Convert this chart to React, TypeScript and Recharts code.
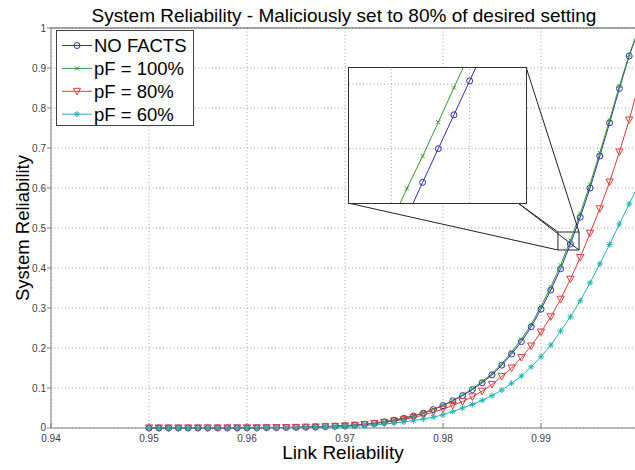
import React from 'react';
import { LineChart, Line, XAxis, YAxis, CartesianGrid, ReferenceLine, ReferenceArea } from 'recharts';

// link reliability samples (x) and the four curves
const linkRel = [
  0.95, 0.951, 0.952, 0.953, 0.954, 0.955, 0.956, 0.957, 0.958, 0.959,
  0.96, 0.961, 0.962, 0.963, 0.964, 0.965, 0.966, 0.967, 0.968, 0.969,
  0.97, 0.971, 0.972, 0.973, 0.974, 0.975, 0.976, 0.977, 0.978, 0.979,
  0.98, 0.981, 0.982, 0.983, 0.984, 0.985, 0.986, 0.987, 0.988, 0.989,
  0.99, 0.991, 0.992, 0.993, 0.994, 0.995, 0.996, 0.997, 0.998, 0.999, 1.0,
];
const noFacts = [
  0.0001, 0.0001, 0.0001, 0.0001, 0.0002, 0.0002, 0.0002, 0.0003, 0.0003, 0.0004,
  0.0005, 0.0006, 0.0008, 0.001, 0.0013, 0.0017, 0.0022, 0.0028, 0.0036, 0.0045,
  0.0057, 0.0073, 0.0095, 0.012, 0.0155, 0.0195, 0.024, 0.03, 0.037, 0.046,
  0.056, 0.068, 0.081, 0.096, 0.113, 0.133, 0.157, 0.185, 0.216, 0.253,
  0.297, 0.345, 0.398, 0.46, 0.527, 0.6, 0.68, 0.763, 0.849, 0.93, 1.0,
];
const pF100 = [
  0.0001, 0.0001, 0.0001, 0.0001, 0.0002, 0.0002, 0.0002, 0.0003, 0.0003, 0.0004,
  0.0005, 0.0006, 0.0008, 0.001, 0.0013, 0.0017, 0.0022, 0.0029, 0.0037, 0.0046,
  0.0058, 0.0075, 0.0097, 0.0123, 0.0158, 0.0199, 0.0245, 0.0306, 0.0378, 0.047,
  0.057, 0.069, 0.083, 0.098, 0.116, 0.136, 0.161, 0.19, 0.222, 0.259,
  0.304, 0.353, 0.407, 0.469, 0.536, 0.609, 0.688, 0.77, 0.855, 0.933, 1.0,
];
const pF80 = [
  0.0001, 0.0001, 0.0001, 0.0001, 0.0002, 0.0002, 0.0002, 0.0003, 0.0003, 0.0004,
  0.0005, 0.0006, 0.0008, 0.001, 0.0013, 0.0016, 0.0021, 0.0026, 0.0033, 0.0042,
  0.0052, 0.0067, 0.0087, 0.011, 0.014, 0.0175, 0.0215, 0.0265, 0.0325, 0.04,
  0.047, 0.0565, 0.066, 0.078, 0.092, 0.109, 0.129, 0.15, 0.176, 0.205,
  0.24, 0.278, 0.322, 0.372, 0.426, 0.487, 0.548, 0.615, 0.69, 0.77, 0.86,
];
const pF60 = [
  0.0001, 0.0001, 0.0001, 0.0001, 0.0001, 0.0002, 0.0002, 0.0002, 0.0003, 0.0003,
  0.0004, 0.0005, 0.0006, 0.0008, 0.001, 0.0012, 0.0015, 0.0019, 0.0024, 0.003,
  0.0037, 0.0048, 0.0062, 0.0078, 0.0098, 0.0122, 0.015, 0.0185, 0.0225, 0.027,
  0.033, 0.041, 0.05, 0.059, 0.069, 0.081, 0.095, 0.112, 0.13, 0.153,
  0.178, 0.2075, 0.2425, 0.278, 0.318, 0.363, 0.41, 0.459, 0.51, 0.56, 0.61,
];

const xTicks = [0.94, 0.95, 0.96, 0.97, 0.98, 0.99, 1];
const yTicks = [0, 0.1, 0.2, 0.3, 0.4, 0.5, 0.6, 0.7, 0.8, 0.9, 1];

// magnified inset (finer sampling around 0.993)
const insetX = [0.9924, 0.9926, 0.9928, 0.993, 0.9932, 0.9934, 0.9936];
const insetNoFacts = [null, 0.444, 0.4546, 0.465, 0.4755, 0.486, 0.4965];
const insetPF100 = [0.4423, 0.4527, 0.4627, 0.4732, 0.4839, 0.4945, null];
const insetXDomain = [0.99186, 0.99412];
const insetYDomain = [0.4482, 0.49];
const insetGridX = [0.9924, 0.9934];
const insetGridY = [0.465, 0.485];

// zoom box on the main axes
const zoomBox = { x1: 0.99173, x2: 0.99388, y1: 0.445, y2: 0.49 };

const BLUE = '#2e2eb0';
const GREEN = '#2e9c2e';
const RED = '#e03a3a';
const CYAN = '#1fb5b5';
const FONT = '"Liberation Sans", Arial, sans-serif';

// main plot geometry (pixels)
const PL = 51, PT = 28, PW = 588, PH = 400;
const CW = 660, CH = 470;
const XAXIS_H = 30, YAXIS_W = 40;
const INSET = { left: 348, top: 67, right: 526, bottom: 203 };
const px2x = (px: number) => 0.94 + ((px - PL) / PW) * 0.06;
const py2y = (py: number) => 1 - (py - PT) / PH;

const rows = linkRel.map((x, i) => ({ x, noFacts: noFacts[i], pF100: pF100[i], pF80: pF80[i], pF60: pF60[i] }));
const insetRows = insetX.map((x, i) => ({ x, noFacts: insetNoFacts[i], pF100: insetPF100[i] }));

function Marker({ shape, cx, cy, color }: { shape: string; cx: number; cy: number; color: string }) {
  if (shape === 'o') return <circle cx={cx} cy={cy} r={3} fill="none" stroke={color} strokeWidth={1} />;
  if (shape === 'x')
    return (
      <g stroke={color} strokeWidth={1}>
        <line x1={cx - 2} y1={cy - 2} x2={cx + 2} y2={cy + 2} />
        <line x1={cx - 2} y1={cy + 2} x2={cx + 2} y2={cy - 2} />
      </g>
    );
  if (shape === 'v')
    return (
      <polygon
        points={`${cx - 3.6},${cy - 3} ${cx + 3.6},${cy - 3} ${cx},${cy + 3.6}`}
        fill="none" stroke={color} strokeWidth={1}
      />
    );
  return (
    <g stroke={color} strokeWidth={1}>
      <line x1={cx - 3} y1={cy} x2={cx + 3} y2={cy} />
      <line x1={cx} y1={cy - 3} x2={cx} y2={cy + 3} />
      <line x1={cx - 2.2} y1={cy - 2.2} x2={cx + 2.2} y2={cy + 2.2} />
      <line x1={cx - 2.2} y1={cy + 2.2} x2={cx + 2.2} y2={cy - 2.2} />
    </g>
  );
}

const makeDot = (shape: string, color: string, range?: number[]) => (props: any) => {
  const { cx, cy, index, payload, value } = props;
  const out = range && (payload.x < range[0] || payload.x > range[1]);
  if (cx == null || cy == null || value == null || out) return <g key={index} />;
  return (
    <g key={index}>
      <Marker shape={shape} cx={cx} cy={cy} color={color} />
    </g>
  );
};

// x ticks point inwards (up), label below; the label at 1 falls outside the picture
function XTick(props: any) {
  const { x, payload } = props;
  const v = payload.value;
  const ay = PT + PH;
  return (
    <g>
      <line x1={x} y1={ay} x2={x} y2={ay - 5} stroke="#808080" />
      {v < 1 && (
        <text x={x} y={ay + 13.5} textAnchor="middle" fontSize={10} fill="#404040" fontFamily={FONT}>
          {v.toFixed(2)}
        </text>
      )}
    </g>
  );
}

function YTick(props: any) {
  const { y, payload } = props;
  const v = payload.value;
  return (
    <g>
      <line x1={PL} y1={y} x2={PL - 4} y2={y} stroke="#808080" />
      <text x={PL - 5} y={v === 0 ? y + 2.5 : y + 3.6} textAnchor="end" fontSize={10} fill="#404040" fontFamily={FONT}>
        {v === 0 || v === 1 ? String(v) : v.toFixed(1)}
      </text>
    </g>
  );
}

const legendItems = [
  { label: 'NO FACTS', color: BLUE, shape: 'o' },
  { label: 'pF = 100%', color: GREEN, shape: 'x' },
  { label: 'pF = 80%', color: RED, shape: 'v' },
  { label: 'pF = 60%', color: CYAN, shape: '*' },
];

export default function App() {
  return (
    <div style={{ position: 'fixed', left: 0, top: 0, width: 635, height: 470, overflow: 'hidden', background: '#fff' }}>
      <LineChart
        width={CW} height={CH} data={rows}
        margin={{ top: PT, right: CW - PL - PW, bottom: CH - PT - PH - XAXIS_H, left: PL - YAXIS_W }}
      >
        <CartesianGrid stroke="#a0a0a0" strokeDasharray="1 2.5" />
        <XAxis
          type="number" dataKey="x" domain={[0.94, 1]} ticks={xTicks} interval={0}
          height={XAXIS_H} tickLine={false} axisLine={{ stroke: '#808080' }} tick={<XTick />}
        />
        <YAxis
          type="number" domain={[0, 1]} ticks={yTicks} interval={0}
          width={YAXIS_W} tickLine={false} axisLine={{ stroke: '#808080' }} tick={<YTick />}
        />
        <ReferenceLine y={1} stroke="#505050" />
        <Line type="linear" dataKey="noFacts" stroke={BLUE} strokeWidth={1} dot={makeDot('o', BLUE)} activeDot={false} isAnimationActive={false} />
        <Line type="linear" dataKey="pF100" stroke={GREEN} strokeWidth={1} dot={makeDot('x', GREEN)} activeDot={false} isAnimationActive={false} />
        <Line type="linear" dataKey="pF80" stroke={RED} strokeWidth={1} dot={makeDot('v', RED)} activeDot={false} isAnimationActive={false} />
        <Line type="linear" dataKey="pF60" stroke={CYAN} strokeWidth={1} dot={makeDot('*', CYAN)} activeDot={false} isAnimationActive={false} />
        <ReferenceArea x1={zoomBox.x1} x2={zoomBox.x2} y1={zoomBox.y1} y2={zoomBox.y2} fill="none" stroke="#222" strokeWidth={1} />
        <ReferenceLine stroke="#222" segment={[{ x: px2x(INSET.left), y: py2y(INSET.bottom) }, { x: zoomBox.x1, y: zoomBox.y1 }]} />
        <ReferenceLine stroke="#222" segment={[{ x: px2x(INSET.right), y: py2y(INSET.top) }, { x: zoomBox.x2, y: zoomBox.y2 }]} />
        <ReferenceLine stroke="#222" segment={[{ x: px2x(INSET.right - 8), y: py2y(INSET.bottom) }, { x: zoomBox.x1, y: zoomBox.y2 }]} />
        <ReferenceLine stroke="#222" segment={[{ x: px2x(INSET.right - 8), y: py2y(INSET.bottom) }, { x: zoomBox.x2, y: zoomBox.y1 }]} />
      </LineChart>

      <div
        style={{
          position: 'absolute', left: INSET.left, top: INSET.top,
          width: INSET.right - INSET.left - 1, height: INSET.bottom - INSET.top - 1,
          border: '1px solid #303030', background: '#fff',
        }}
      >
        <LineChart width={INSET.right - INSET.left - 1} height={INSET.bottom - INSET.top - 1} data={insetRows} margin={{ top: 0, right: 0, bottom: 0, left: 0 }}>
          <XAxis type="number" dataKey="x" domain={insetXDomain} allowDataOverflow hide />
          <YAxis type="number" domain={insetYDomain} allowDataOverflow hide />
          {insetGridX.map((g) => (
            <ReferenceLine key={'gx' + g} x={g} stroke="#a0a0a0" strokeDasharray="1 2.5" />
          ))}
          {insetGridY.map((g) => (
            <ReferenceLine key={'gy' + g} y={g} stroke="#a0a0a0" strokeDasharray="1 2.5" />
          ))}
          <Line type="linear" dataKey="noFacts" stroke={BLUE} strokeWidth={1} dot={makeDot('o', BLUE, insetXDomain)} activeDot={false} isAnimationActive={false} />
          <Line type="linear" dataKey="pF100" stroke={GREEN} strokeWidth={1} dot={makeDot('x', GREEN, insetXDomain)} activeDot={false} isAnimationActive={false} />
        </LineChart>
      </div>

      <div
        style={{
          position: 'absolute', left: 56, top: 30, width: 136, height: 94,
          border: '1px solid #404040', background: '#fff',
        }}
      >
        <svg width={136} height={94}>
          {legendItems.map((it, i) => {
            const cy = 14.5 + i * 22.9;
            return (
              <g key={it.label}>
                <line x1={5} y1={cy} x2={35} y2={cy} stroke={it.color} strokeWidth={1} />
                <Marker shape={it.shape} cx={20} cy={cy} color={it.color} />
                <text x={37} y={cy + 6.5} fontSize={18.5} fontFamily={FONT} fill="#000">
                  {it.label}
                </text>
              </g>
            );
          })}
        </svg>
      </div>

      <svg width={635} height={470} style={{ position: 'absolute', left: 0, top: 0, pointerEvents: 'none' }}>
        <text x={344} y={22} textAnchor="middle" fontSize={19} fontFamily={FONT} fill="#000">
          System Reliability - Maliciously set to 80% of desired setting
        </text>
        <text x={343} y={459} textAnchor="middle" fontSize={19} fontFamily={FONT} fill="#000">
          Link Reliability
        </text>
        <text x={22} y={228} textAnchor="middle" fontSize={18.5} fontFamily={FONT} fill="#000" transform="rotate(-90 22 228)" dominantBaseline="central">
          System Reliability
        </text>
      </svg>
    </div>
  );
}
